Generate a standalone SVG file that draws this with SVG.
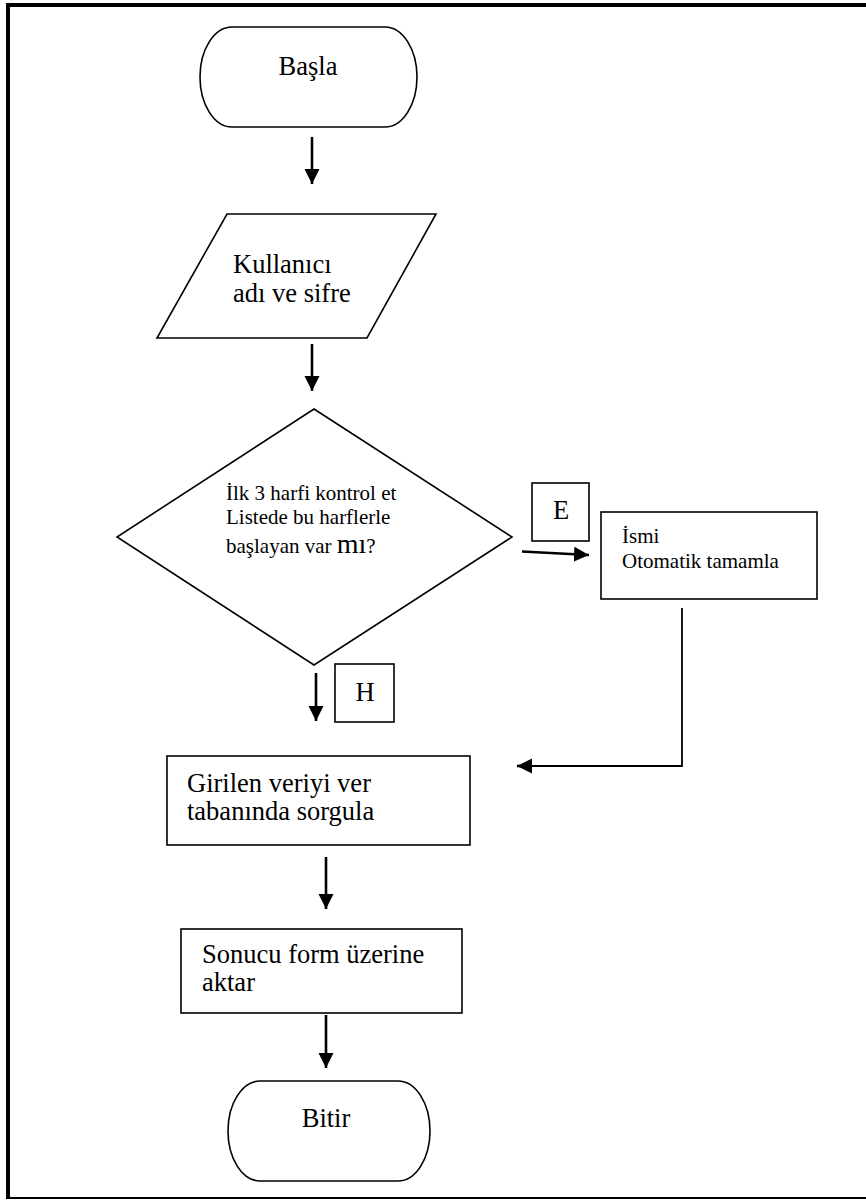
<svg xmlns="http://www.w3.org/2000/svg" width="866" height="1200" viewBox="0 0 866 1200">
  <style>
    .shape { fill: #ffffff; stroke: #000000; stroke-width: 1.6; }
    .flow { fill: none; stroke: #000000; stroke-width: 2.6; }
    .flow-thin { fill: none; stroke: #000000; stroke-width: 1.8; }
    .big { font-size: 26.5px; }
    .small { font-size: 21px; }
  </style>
  <defs>
    <marker id="arrowhead" markerUnits="userSpaceOnUse" markerWidth="16" markerHeight="16" refX="15" refY="7.5" orient="auto">
      <path d="M0,0 L15,7.5 L0,15 Z" fill="#000000"/>
    </marker>
  </defs>

  <rect x="0" y="0" width="866" height="1200" fill="#ffffff"/>

  <!-- page frame -->
  <g id="frame">
    <line x1="6" y1="5" x2="866" y2="5" stroke="#000000" stroke-width="4"/>
    <line x1="8" y1="3" x2="8" y2="1199" stroke="#000000" stroke-width="4"/>
    <line x1="6" y1="1198" x2="866" y2="1198" stroke="#000000" stroke-width="2"/>
  </g>

  <g id="connectors">
    <line class="flow" x1="312" y1="137" x2="312" y2="184" marker-end="url(#arrowhead)"/>
    <line class="flow" x1="312" y1="344" x2="312" y2="391" marker-end="url(#arrowhead)"/>
    <line class="flow" x1="522" y1="551.5" x2="589" y2="555" marker-end="url(#arrowhead)"/>
    <line class="flow" x1="316" y1="673" x2="316" y2="721" marker-end="url(#arrowhead)"/>
    <polyline class="flow-thin" points="682,608 682,766 530,766"/>
    <line class="flow" x1="532" y1="766" x2="517" y2="766" marker-end="url(#arrowhead)"/>
    <line class="flow" x1="326" y1="857" x2="326" y2="909" marker-end="url(#arrowhead)"/>
    <line class="flow" x1="326" y1="1015" x2="326" y2="1068" marker-end="url(#arrowhead)"/>
  </g>

  <g id="nodes" font-family="'Liberation Serif', 'Times New Roman', serif" fill="#000000">
    <g id="node-basla">
      <path class="shape" d="M232,27 H385 A32,50 0 0 1 385,127 H232 A32,50 0 0 1 232,27 Z"/>
      <text class="big" x="308" y="75" text-anchor="middle">Başla</text>
    </g>

    <g id="node-giris">
      <polygon class="shape" points="227,214 436,214 367,338 157,338"/>
      <text class="big" x="233" y="273">Kullanıcı</text>
      <text class="big" x="233" y="302">adı ve sifre</text>
    </g>

    <g id="node-karar">
      <polygon class="shape" points="314,409 512,537 314,665 117,537"/>
      <text class="small" x="226" y="500">İlk 3 harfi kontrol et</text>
      <text class="small" x="226" y="524">Listede bu harflerle</text>
      <text class="small" x="226" y="553">başlayan var <tspan font-size="28px">mı</tspan>?</text>
    </g>

    <g id="label-e">
      <rect class="shape" x="532" y="483" width="57" height="58"/>
      <text class="big" x="561" y="519" text-anchor="middle">E</text>
    </g>

    <g id="node-tamamla">
      <rect class="shape" x="601" y="512" width="216" height="87"/>
      <text class="small" x="622" y="543">İsmi</text>
      <text class="small" x="622" y="568">Otomatik tamamla</text>
    </g>

    <g id="label-h">
      <rect class="shape" x="335" y="664" width="59" height="58"/>
      <text class="big" x="365" y="701" text-anchor="middle">H</text>
    </g>

    <g id="node-sorgula">
      <rect class="shape" x="167" y="756" width="303" height="89"/>
      <text class="big" x="187" y="792">Girilen veriyi ver</text>
      <text class="big" x="187" y="820">tabanında sorgula</text>
    </g>

    <g id="node-aktar">
      <rect class="shape" x="181" y="929" width="281" height="84"/>
      <text class="big" x="202" y="963">Sonucu form üzerine</text>
      <text class="big" x="202" y="991">aktar</text>
    </g>

    <g id="node-bitir">
      <path class="shape" d="M260,1081 H398 A32,50 0 0 1 398,1181 H260 A32,50 0 0 1 260,1081 Z"/>
      <text class="big" x="326" y="1127" text-anchor="middle">Bitir</text>
    </g>
  </g>
</svg>
